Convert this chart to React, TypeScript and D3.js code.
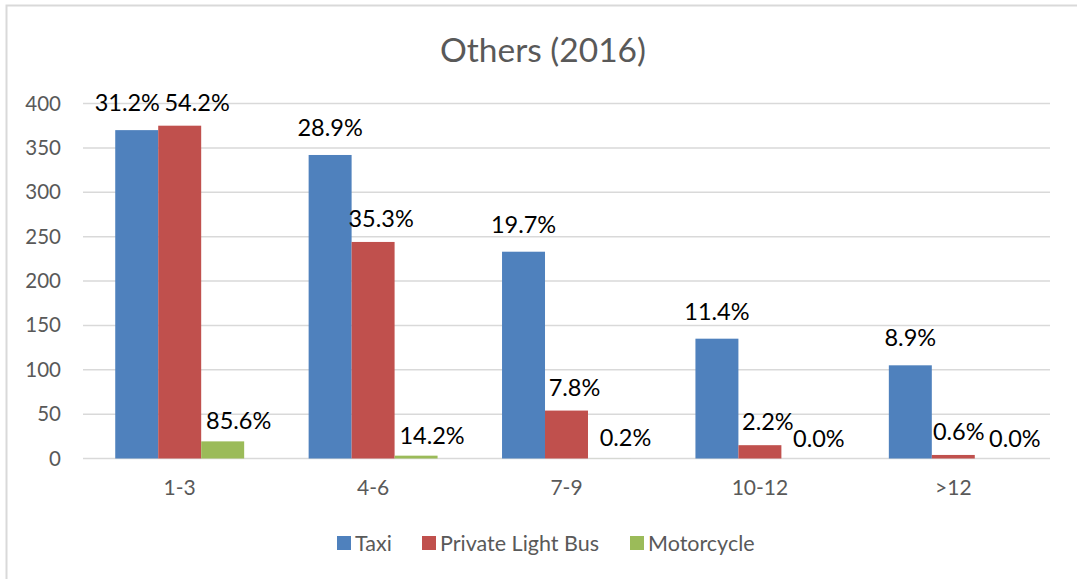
import React from 'react';
import * as d3 from 'd3';

const width = 1077;
const height = 579;

const categories = ['1-3', '4-6', '7-9', '10-12', '>12'];
const seriesNames = ['Taxi', 'Private Light Bus', 'Motorcycle'];
const taxi = [370, 342, 233, 135, 105];
const lightBus = [375, 244, 54, 15, 4];
const motorcycle = [19.3, 3.2, 0.05, 0, 0];
const taxiLabels = ['31.2%', '28.9%', '19.7%', '11.4%', '8.9%'];
const lightBusLabels = ['54.2%', '35.3%', '7.8%', '2.2%', '0.6%'];
const motorcycleLabels = ['85.6%', '14.2%', '0.2%', '0.0%', '0.0%'];
const yTicks = [0, 50, 100, 150, 200, 250, 300, 350, 400];

const colors = ['#4f81bd', '#c0504d', '#9bbb59'];
// label nudges per series (labels in the source sit a bit right of the red/green bars)
const labelDx = [0, 8, 16];
const labelGap = [19, 15, 12];

const font = 'Lato, Carlito, Calibri, sans-serif';
const labelSize = 23.5;

// rough text width for Lato digits / percent
function textWidth(s: string, size: number) {
  let w = 0;
  for (const ch of s) {
    if (ch === '.') w += 0.26;
    else if (ch === '%') w += 0.8;
    else w += 0.58;
  }
  return w * size;
}

export default function App() {
  const plot = { left: 83, right: 1050, top: 103.5, bottom: 458.5 };

  const x0 = d3.scaleBand()
    .domain(categories)
    .range([plot.left, plot.right])
    .paddingInner(1 / 3)
    .paddingOuter(1 / 6);

  const x1 = d3.scaleBand()
    .domain(seriesNames)
    .range([0, x0.bandwidth()]);

  const y = d3.scaleLinear()
    .domain([0, 400])
    .range([plot.bottom, plot.top]);

  const allValues = [taxi, lightBus, motorcycle];
  const allLabels = [taxiLabels, lightBusLabels, motorcycleLabels];

  // label positions, pushed apart sideways when neighbours on the same row collide
  const labelPos = categories.map((c, i) => {
    const pos = allLabels.map((labs, s) => ({
      text: labs[i],
      x: (x0(c) as number) + (x1(seriesNames[s]) as number) + x1.bandwidth() / 2 + labelDx[s],
      y: y(allValues[s][i]) - labelGap[s],
      w: textWidth(labs[i], labelSize),
    }));
    for (let s = 0; s < pos.length - 1; s++) {
      const a = pos[s];
      const b = pos[s + 1];
      if (Math.abs(a.y - b.y) < 12) {
        const need = (a.w + b.w) / 2 + 4;
        const have = b.x - a.x;
        if (have < need) {
          const push = (need - have) / 2;
          a.x -= push;
          b.x += push;
        }
      }
    }
    return pos;
  });

  const legendItems = [
    { name: seriesNames[0], x: 337 },
    { name: seriesNames[1], x: 422 },
    { name: seriesNames[2], x: 630 },
  ];

  return (
    <svg width={width} height={height} style={{ position: 'absolute', left: 0, top: 0, background: '#fff' }}>
      <rect x={6.5} y={5.5} width={width + 10} height={height + 10} fill="#fff" stroke="#d9d9d9" strokeWidth={2} />

      <text x={543} y={62} textAnchor="middle" fontFamily={font} fontSize={33.5} fill="#595959">
        Others (2016)
      </text>

      {yTicks.map((t) => (
        <g key={t}>
          <line x1={plot.left} x2={plot.right} y1={y(t)} y2={y(t)} stroke="#d9d9d9" strokeWidth={1.5} />
          <text x={61} y={y(t) + 7} textAnchor="end" fontFamily={font} fontSize={20.5} fill="#595959">
            {t}
          </text>
        </g>
      ))}

      {categories.map((c, i) => (
        <g key={c}>
          {allValues.map((vals, s) => {
            const bx = (x0(c) as number) + (x1(seriesNames[s]) as number);
            const by = y(vals[i]);
            return (
              <rect key={s} x={bx} y={by} width={x1.bandwidth()} height={plot.bottom - by} fill={colors[s]} />
            );
          })}
          {labelPos[i].map((p, s) => (
            <text key={'l' + s} x={p.x} y={p.y} textAnchor="middle" fontFamily={font}
              fontSize={labelSize} fill="#000">
              {p.text}
            </text>
          ))}
          <text x={(x0(c) as number) + x0.bandwidth() / 2} y={495} textAnchor="middle"
            fontFamily={font} fontSize={21} fill="#595959">
            {c}
          </text>
        </g>
      ))}

      {legendItems.map((d, i) => (
        <g key={d.name}>
          <rect x={d.x} y={536} width={14} height={14} fill={colors[i]} />
          <text x={d.x + 18} y={550.5} fontFamily={font} fontSize={21.5} fill="#595959">
            {d.name}
          </text>
        </g>
      ))}
    </svg>
  );
}
